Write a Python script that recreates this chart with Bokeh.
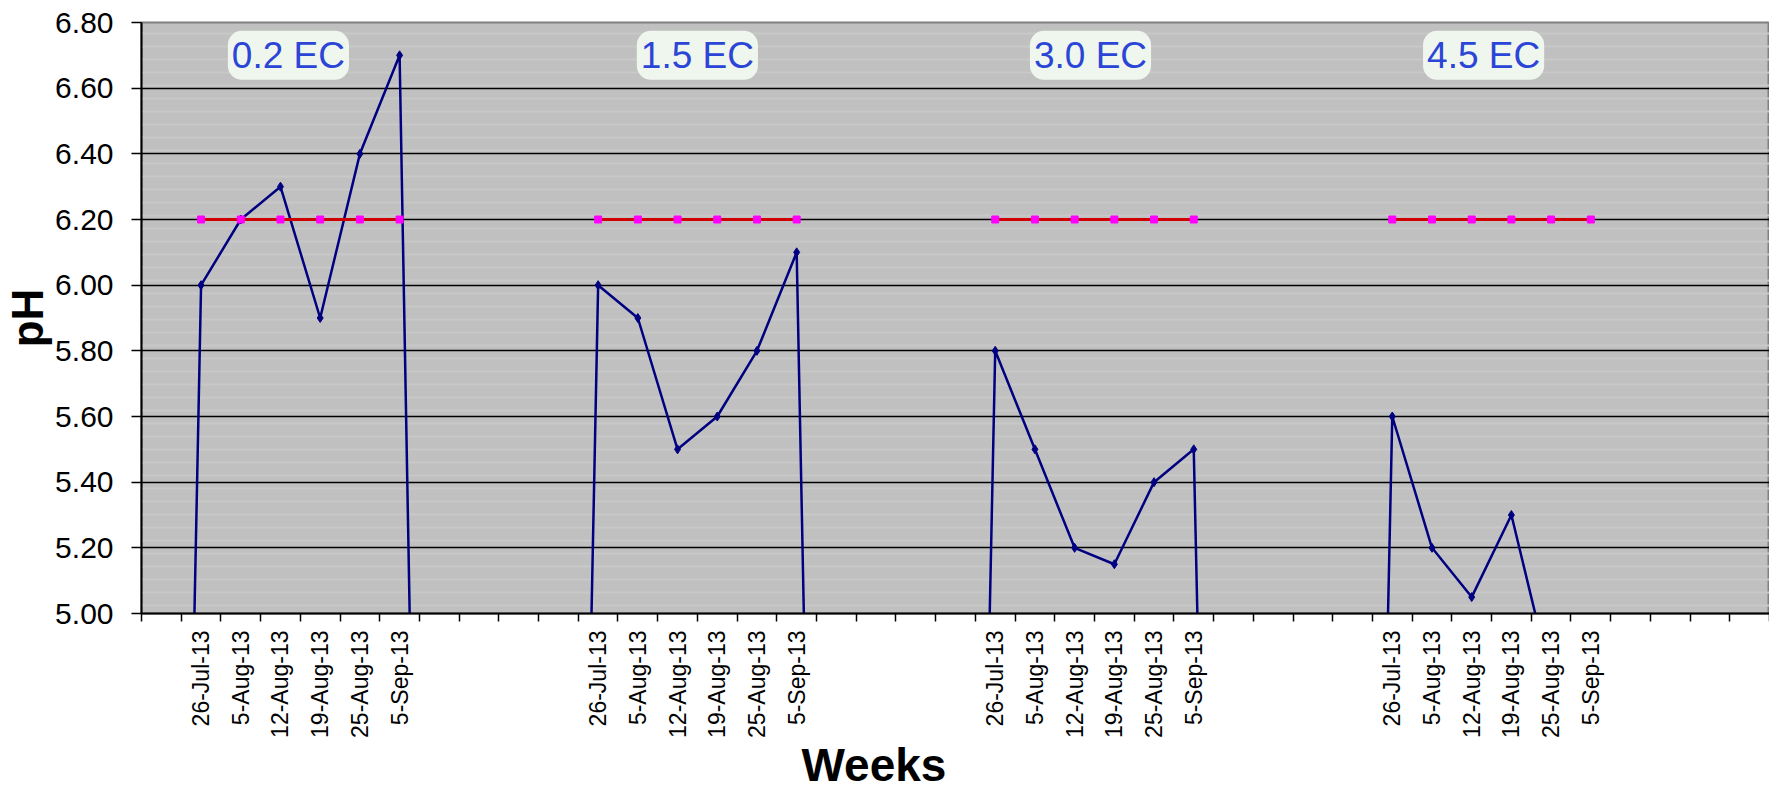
import numpy as np
from bokeh.plotting import figure
from bokeh.models import Range1d, FixedTicker, NumeralTickFormatter, Label, Title
from bokeh.embed import file_html
from bokeh.resources import INLINE

# ---- data ----
dates = ["26-Jul-13", "5-Aug-13", "12-Aug-13", "19-Aug-13", "25-Aug-13", "5-Sep-13"]
ec_levels = ["0.2 EC", "1.5 EC", "3.0 EC", "4.5 EC"]
ph_02 = [6.00, 6.20, 6.30, 5.90, 6.40, 6.70]
ph_15 = [6.00, 5.90, 5.50, 5.60, 5.80, 6.10]
ph_30 = [5.80, 5.50, 5.20, 5.15, 5.40, 5.50]
ph_45 = [5.60, 5.20, 5.05, 5.30, 4.80, np.nan]
target_ph = [6.20, 6.20, 6.20, 6.20, 6.20, 6.20]
blank_value = 0.0  # empty weeks plotted as zero (as in the original spreadsheet)
y_min, y_max = 5.0, 6.8
y_ticks = [5.0, 5.2, 5.4, 5.6, 5.8, 6.0, 6.2, 6.4, 6.6, 6.8]

groups = [ph_02, ph_15, ph_30, ph_45]

# ---- layout of the category axis ----
N_CAT = 41
GROUP_STEP = 10
FIRST = 1

FONT = "Liberation Sans"
NAVY = "#000080"

p = figure(width=1769, height=793, output_backend="svg", toolbar_location=None,
           x_range=Range1d(-0.5, N_CAT - 0.5), y_range=Range1d(y_min, y_max),
           min_border_left=135, min_border_right=0, min_border_top=22,
           min_border_bottom=180)

p.background_fill_color = "#C0C0C0"
p.border_fill_color = "white"
p.outline_line_color = "#808080"
p.outline_line_width = 2

# subtle striped texture of the plot area
p.quad(left=-0.5, right=N_CAT - 0.5, bottom=y_min, top=y_max,
       fill_color=None, line_color=None,
       hatch_pattern="-", hatch_color="#C8C8C8", hatch_scale=13, hatch_weight=2)

p.ygrid.grid_line_color = "black"
p.ygrid.grid_line_width = 1.5
p.xgrid.visible = False

# full series (including blank weeks as zeros)
x_all = np.arange(N_CAT)
y_all = np.full(N_CAT, blank_value, dtype=float)
for g, vals in enumerate(groups):
    s = FIRST + g * GROUP_STEP
    y_all[s:s + len(vals)] = vals

p.line(x_all, y_all, line_color=NAVY, line_width=2.5)

for g, vals in enumerate(groups):
    s = FIRST + g * GROUP_STEP
    xs = list(range(s, s + len(vals)))
    p.scatter(xs, vals, marker="diamond", size=9, color=NAVY)
    p.line(xs, target_ph, line_color="#D00000", line_width=3)
    p.scatter(xs, target_ph, marker="square", size=7, fill_color="#FF00FF",
              line_color="#FF00FF")

# ---- axes ----
centers = []
overrides = {}
for g in range(len(groups)):
    s = FIRST + g * GROUP_STEP
    for i, d in enumerate(dates):
        centers.append(s + i)
        overrides[s + i] = d
boundaries = [k - 0.5 for k in range(N_CAT + 1)]

xa = p.xaxis[0]
xa.ticker = FixedTicker(ticks=centers, minor_ticks=boundaries)
xa.major_label_overrides = overrides
xa.major_label_orientation = np.pi / 2
xa.major_tick_line_color = None
xa.major_tick_out = 8
xa.major_tick_in = 0
xa.minor_tick_line_color = "black"
xa.minor_tick_out = 8
xa.minor_tick_in = 0
xa.minor_tick_line_width = 1.5
xa.major_label_standoff = 9
xa.major_label_text_font = FONT
xa.major_label_text_font_size = "23px"
xa.major_label_text_color = "black"
xa.axis_line_color = "black"
xa.axis_line_width = 2

ya = p.yaxis[0]
ya.ticker = FixedTicker(ticks=y_ticks)
ya.formatter = NumeralTickFormatter(format="0.00")
ya.major_tick_out = 10
ya.major_tick_in = 0
ya.major_tick_line_color = "black"
ya.major_tick_line_width = 1.5
ya.minor_tick_line_color = None
ya.major_label_standoff = 18
ya.major_label_text_font = FONT
ya.major_label_text_font_size = "30px"
ya.major_label_text_color = "black"
ya.axis_line_color = "black"
ya.axis_line_width = 2
ya.axis_label = "pH"
ya.axis_label_text_font = FONT
ya.axis_label_text_font_size = "44px"
ya.axis_label_text_font_style = "bold"
ya.axis_label_text_color = "black"
ya.axis_label_standoff = 0

# ---- group labels ----
label_x = [3.2, 13.5, 23.4, 33.3]
for lx, txt in zip(label_x, ec_levels):
    p.add_layout(Label(x=lx, y=6.70, text=txt, text_align="center",
                       text_baseline="middle", text_font=FONT,
                       text_font_size="37px", text_color="#2B45D6",
                       background_fill_color="#EFF6EE", background_fill_alpha=1.0,
                       border_radius=14, padding=4))

# ---- x-axis title ----
p.add_layout(Title(text="Weeks", align="left", offset=660, standoff=-4,
                   vertical_align="top", text_font=FONT,
                   text_font_size="46px", text_font_style="bold",
                   text_color="black"), "below")

open("out.html", "w").write(file_html(p, INLINE))
